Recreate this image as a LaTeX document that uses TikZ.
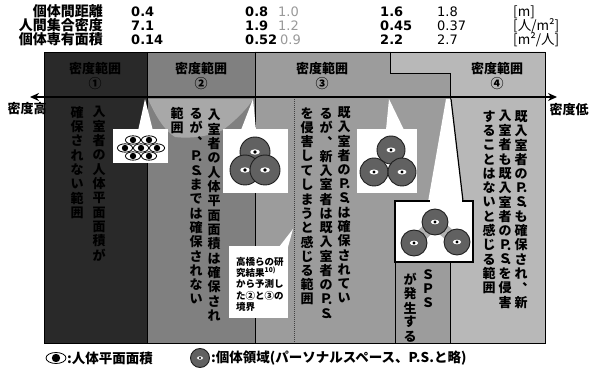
\documentclass[tikz,border=0pt]{standalone}
\usepackage{fontspec}
\setmainfont{DejaVu Sans}
\newfontfamily\jp{Noto Sans CJK JP}
\newfontfamily\num{DejaVu Sans}
\usetikzlibrary{arrows.meta,calc}

% vertical (tategaki) text: one cell per character
\newdimen\tatepitch \tatepitch=14.3pt
\def\tateend{TATEEND}
\newcommand\tate[1]{\vbox{\offinterlineskip\tateloop#1\tateend}}
\def\tateloop#1{\ifx#1\tateend\else\tatecell{#1}\expandafter\tateloop\fi}
\def\tatecell#1{\hbox to 1em{\hss\vbox to\tatepitch{\vss\hbox{#1}\vss}\hss}}
\def\Pd{Ｐ\llap{\raisebox{-.05em}{.}}}
\def\Sd{Ｓ\llap{\raisebox{-.05em}{.}}}

\definecolor{colA}{gray}{0.16}
\definecolor{colB}{gray}{0.50}
\definecolor{colC}{gray}{0.61}
\definecolor{colD}{gray}{0.72}
\definecolor{funnel}{gray}{0.66}

\tikzset{
  lbl/.style={font=\jp\bfseries\fontsize{14}{14}\selectfont, anchor=base east, inner sep=0},
  val/.style={font=\num\bfseries\fontsize{13}{13}\selectfont, anchor=base west, inner sep=0},
  valthin/.style={font=\num\fontsize{13}{13}\selectfont, anchor=base west, inner sep=0},
  valfaint/.style={valthin, text=black!40},
  unit/.style={font=\jp\fontsize{13.5}{13.5}\selectfont, anchor=base west, inner sep=0},
  head/.style={font=\jp\bfseries\fontsize{13}{13}\selectfont, inner sep=0},
  tatetext/.style={font=\jp\bfseries\fontsize{13}{13}\selectfont, anchor=north, inner sep=0},
  endlbl/.style={font=\jp\bfseries\fontsize{13}{13}\selectfont, inner sep=0},
  note/.style={font=\jp\bfseries\fontsize{9.5}{11.3}\selectfont, align=left, anchor=north west, inner sep=0},
  legtext/.style={font=\jp\bfseries\fontsize{13.5}{13.5}\selectfont, anchor=west, inner sep=0},
  bubble/.style={fill=white, draw=none},
  psc/.style={fill=black!62, draw=black!88, line width=0.9},
  densarrow/.style={line width=1.8, {Stealth[length=9pt,width=8pt]}-{Stealth[length=9pt,width=8pt]}},
  border/.style={line width=0.8, draw=black},
  predicted/.style={line width=1, draw=black!75, densely dotted},
  person/.pic={
    \draw[fill=white, line width=0.8] (0,0) ellipse (#1 and 0.55*#1);
    \fill (0,0) circle (0.42*#1);
  },
  pspace/.pic={
    \draw[psc] (0,0) circle (#1);
    \fill[white] (0,0) ellipse (0.32*#1 and 0.18*#1);
    \fill (0,0) circle (0.12*#1);
  },
}

\begin{document}
\begin{tikzpicture}[x=1pt,y=-1pt]
\useasboundingbox (0,0) rectangle (594,371);
\fill[white] (0,0) rectangle (594,371);

% ---------- table of values ----------
\node[lbl] (l1) at (103,17) {個体間距離};
\node[lbl] (l2) at (103,31) {人間集合密度};
\node[lbl] (l3) at (103,45) {個体専有面積};

\node[val] (a1) at (131,17) {0.4};
\node[val] (a2) at (131,31) {7.1};
\node[val] (a3) at (131,45) {0.14};
\node[val] (b1) at (245,17) {0.8};
\node[val] (b2) at (245,31) {1.9};
\node[val] (b3) at (245,45) {0.52};
\node[valfaint] (c1) at (278,17) {1.0};
\node[valfaint] (c2) at (278,31) {1.2};
\node[valfaint] (c3) at (280,45) {0.9};
\node[val] (d1) at (380,17) {1.6};
\node[val] (d2) at (380,31) {0.45};
\node[val] (d3) at (380,45) {2.2};
\node[valthin] (e1) at (437,17) {1.8};
\node[valthin] (e2) at (437,31) {0.37};
\node[valthin] (e3) at (437,45) {2.7};
\node[unit] (u1) at (513,17) {[m]};
\node[unit] (u2) at (513,31) {[人/m²]};
\node[unit] (u3) at (513,45) {[m²/人]};

% ---------- density ranges ----------
\fill[colA] (44,52) rectangle (147,343);
\fill[colB] (147,52) rectangle (255,343);
\fill[colC] (255,52) -- (390,52) -- (390,73) -- (450,73) -- (450,343) -- (255,343) -- cycle;
\fill[colD] (390,52) -- (545,52) -- (545,343) -- (450,343) -- (450,73) -- (390,73) -- cycle;
% lighter funnel below the arrow in range 2
\fill[funnel] (148,99) .. controls (156,117) and (165,131) .. (175,137)
  .. controls (192,139) and (210,136) .. (223,130)
  .. controls (236,120) and (248,108) .. (253,99) -- cycle;
\draw[border] (44,52) rectangle (545,343);
\draw[border] (147,52) -- (147,343);
\draw[border] (255,52) -- (255,343);
\draw[border] (390,52) -- (390,73) -- (450,73) -- (450,343);
\draw[predicted] (294,99) -- (294,343);
\draw[border] (395,262) -- (395,343);

\node[head] (h1) at (95,69) {密度範囲};
\node[head] (h1n) at (95,84) {①};
\node[head] (h2) at (201,69) {密度範囲};
\node[head] (h2n) at (201,84) {②};
\node[head] (h3) at (322,69) {密度範囲};
\node[head] (h3n) at (322,84) {③};
\node[head] (h4) at (497,69) {密度範囲};
\node[head] (h4n) at (497,84) {④};

% ---------- callouts ----------
% range 1: body areas packed together
\fill[bubble] (145,99) -- (138,131) -- (153,131) -- cycle;
\fill[bubble] (113,129) rectangle (168,163);
\coordinate (g1) at (141,148);
\foreach \dx/\dy in {-8/-8, 8/-8, -16/0, 0/0, 16/0, -8/8, 8/8}
  \pic at ($(g1)+(\dx,\dy)$) {person=7.6};

% range 2: overlapping personal spaces
\fill[bubble] (253,99) -- (241,130) -- (256,130) -- cycle;
\fill[bubble] (223,129) rectangle (288,193);
\pic at (255,152) {pspace=15};
\pic at (245,170) {pspace=15};
\pic at (265,170) {pspace=15};

% range 3: touching personal spaces
\fill[bubble] (389,99) -- (386,130) -- (404,130) -- cycle;
\fill[bubble] (357,129) rectangle (417,193);
\pic at (391,150) {pspace=14};
\pic at (374,172) {pspace=14};
\pic at (402,172) {pspace=14};

% range 4: separated personal spaces
\fill[bubble] (446,99) -- (428,202) -- (463,202) -- (451,99) -- cycle;
\draw[line width=1.2] (451,99) -- (463,201);
\draw[fill=white, line width=1.2] (395,201) rectangle (473,262);
\fill[bubble] (430,200) rectangle (462,202.5);
\draw[line width=12, black!30, line cap=round, line join=round] (414,243) -- (435,222) -- (457,242);
\pic at (435,222) {pspace=13};
\pic at (414,243) {pspace=13};
\pic at (457,242) {pspace=13};

% note on the predicted boundary between ranges 2 and 3
\fill[bubble] (279,247) -- (293,229) -- (288,247) -- cycle;
\fill[bubble] (229,246) rectangle (288,318);
\node[note] (nt) at (236,257) {高橋らの研\\究結果\textsuperscript{10)}\\から予測し\\た②と③の\\境界};

% ---------- density arrow ----------
\coordinate (hi) at (30,97);
\coordinate (lo) at (557,97);
\draw[densarrow] (hi) -- (lo);
\node[endlbl] (thi) at (27,109) {密度高};
\node[endlbl] (tlo) at (569,110) {密度低};

% ---------- descriptions ----------
\node[tatetext] (t1a) at (99,105) {\tate{入室者の人体平面面積が}};
\node[tatetext] (t1b) at (77,105) {\tate{確保されない範囲}};

\node[tatetext] (t2a) at (214,108) {\tate{入室者の人体平面面積は確保され}};
\node[tatetext] (t2b) at (196,106) {\tate{るが︑\Pd\Sd までは確保されない}};
\node[tatetext] (t2c) at (177,106) {\tate{範囲}};

\node[tatetext] (t3a) at (344,105) {\tate{既入室者の\Pd\Sd は確保されてい}};
\node[tatetext] (t3b) at (326,106) {\tate{るが︑新入室者は既入室者の\Pd\Sd}};
\node[tatetext] (t3c) at (307,106) {\tate{を侵害してしまうと感じる範囲}};

\node[tatetext] (t4a) at (521,109) {\tate{既入室者の\Pd\Sd も確保され︑新}};
\node[tatetext] (t4b) at (505,109) {\tate{入室者も既入室者の\Pd\Sd を侵害}};
\node[tatetext] (t4c) at (489,109) {\tate{することはないと感じる範囲}};

\node[tatetext] (tsa) at (428,267) {\tate{ＳＰＳ}};
\node[tatetext] (tsb) at (410,272) {\tate{が発生する}};

% ---------- legend ----------
\pic at (56,358) {person=10};
\node[legtext] (lg1) at (67,358) {:人体平面面積};
\pic at (200,358) {pspace=9.5};
\node[legtext] (lg2) at (211,358) {:個体領域(パーソナルスペース、P.S.と略)};
\end{tikzpicture}
\end{document}
